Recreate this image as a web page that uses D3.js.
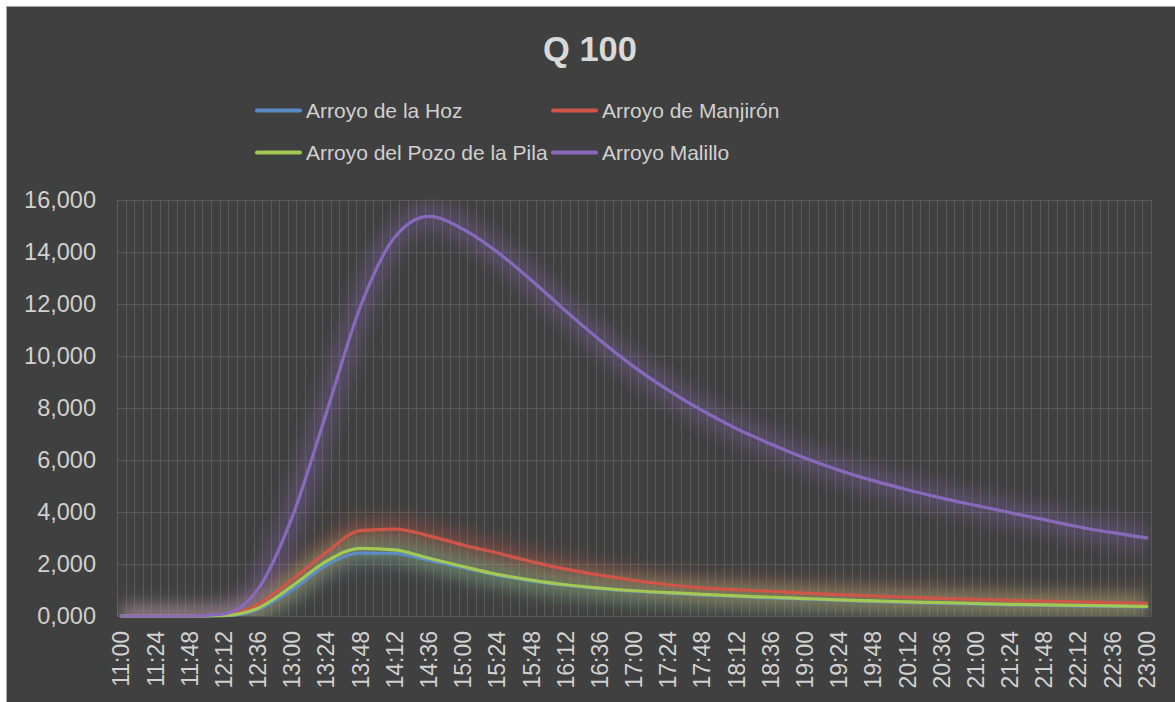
<!DOCTYPE html>
<html>
<head>
<meta charset="utf-8">
<script src="https://cdn.jsdelivr.net/npm/d3@7"></script>
<style>
  html, body { margin: 0; padding: 0; background: #ffffff; }
  svg { display: block; font-family: "Liberation Sans", Arial, sans-serif; }
</style>
</head>
<body>
<svg id="chart" width="1175" height="702"></svg>
<script>
// ---- Data ----
const tickLabels = ["11:00","11:24","11:48","12:12","12:36","13:00","13:24","13:48","14:12","14:36",
  "15:00","15:24","15:48","16:12","16:36","17:00","17:24","17:48","18:12","18:36",
  "19:00","19:24","19:48","20:12","20:36","21:00","21:24","21:48","22:12","22:36","23:00"];

const seriesNames = ["Arroyo de la Hoz", "Arroyo de Manjirón", "Arroyo del Pozo de la Pila", "Arroyo Malillo"];
const seriesColors = ["#5b8cc8", "#cf5549", "#a3c853", "#8a69bd"];

const hozValues = [0,0,0,0.01,0.25,1.0,1.95,2.42,2.4,2.14,1.86,1.57,1.35,1.18,1.05,0.95,0.88,0.81,0.75,0.70,0.65,0.60,0.56,0.52,0.49,0.46,0.43,0.41,0.39,0.37,0.35];
const manjironValues = [0,0,0,0.03,0.45,1.4,2.45,3.28,3.34,3.08,2.73,2.42,2.09,1.8,1.57,1.37,1.2,1.08,1.01,0.95,0.88,0.82,0.77,0.72,0.68,0.64,0.60,0.57,0.54,0.51,0.49];
const pozoValues = [0,0,0,0.02,0.3,1.15,2.1,2.6,2.54,2.22,1.9,1.6,1.38,1.2,1.07,0.97,0.9,0.83,0.77,0.72,0.67,0.62,0.58,0.54,0.51,0.48,0.45,0.43,0.41,0.39,0.37];
const malilloValues = [0,0,0,0.08,1.03,3.8,7.8,11.9,14.55,15.35,14.86,13.98,12.9,11.72,10.6,9.57,8.68,7.89,7.2,6.61,6.07,5.6,5.2,4.85,4.53,4.25,3.97,3.7,3.43,3.2,3.0];

const yTickValues = [0, 2, 4, 6, 8, 10, 12, 14, 16];
const titleText = "Q 100";

// ---- Layout ----
const W = 1175, H = 702;
const plot = { left: 117, right: 1151, top: 199.5, bottom: 616 };

// all categories, every 6 minutes from 11:00 to 23:00
const categories = d3.range(0, 721, 6).map(m => {
  const t = 660 + m;
  return Math.floor(t / 60) + ":" + String(t % 60).padStart(2, "0");
});

const svg = d3.select("#chart");
const defs = svg.append("defs");
const glow = defs.append("filter").attr("id", "glow")
  .attr("filterUnits", "userSpaceOnUse")
  .attr("x", 0).attr("y", 0).attr("width", W).attr("height", H);
glow.append("feGaussianBlur").attr("stdDeviation", 8);
defs.append("clipPath").attr("id", "plotclip").append("rect")
  .attr("x", plot.left).attr("y", plot.top)
  .attr("width", plot.right - plot.left).attr("height", plot.bottom - plot.top);

svg.append("rect").attr("x", 6.5).attr("y", 6.5).attr("width", W).attr("height", H)
  .attr("fill", "#404040").attr("stroke", "#a6a6a6").attr("stroke-width", 1);

const x = d3.scaleBand().domain(categories).range([plot.left, plot.right]).paddingInner(0).paddingOuter(0);
const xc = c => x(c) + x.bandwidth() / 2;
const y = d3.scaleLinear().domain([0, 16]).range([plot.bottom, plot.top]);

const locale = d3.formatLocale({ decimal: ",", thousands: ".", grouping: [3], currency: ["", ""] });
const fmt = locale.format(".3f");

// gridlines: vertical at category boundaries
const grid = svg.append("g").attr("stroke", "#5a5a5a").attr("stroke-width", 1).attr("shape-rendering", "crispEdges");
const bounds = categories.map(c => x(c)).concat([plot.right]);
grid.selectAll("line.v").data(bounds).join("line").attr("class", "v")
  .attr("x1", d => Math.round(d) + 0.5).attr("x2", d => Math.round(d) + 0.5)
  .attr("y1", plot.top).attr("y2", plot.bottom);
grid.selectAll("line.h").data(yTickValues).join("line").attr("class", "h")
  .attr("x1", plot.left).attr("x2", plot.right)
  .attr("y1", d => Math.round(y(d)) + 0.5).attr("y2", d => Math.round(y(d)) + 0.5);

// y axis labels
const yAxis = d3.axisLeft(y).tickValues(yTickValues).tickFormat(fmt).tickSize(0).tickPadding(21);
const yg = svg.append("g").attr("transform", `translate(${plot.left},0)`).call(yAxis);
yg.select(".domain").remove();
yg.selectAll("text").attr("fill", "#d0d0d0").attr("font-size", 23.5)
  .attr("font-family", "'Liberation Sans', Arial, sans-serif");

// x axis labels
const xg = svg.append("g");
xg.selectAll("text").data(tickLabels).join("text")
  .attr("transform", d => `translate(${xc(d)},${plot.bottom + 15}) rotate(-90)`)
  .attr("text-anchor", "end").attr("dy", "0.35em")
  .attr("fill", "#d0d0d0").attr("font-size", 23)
  .text(d => d);

// lines
const allSeries = [hozValues, manjironValues, pozoValues, malilloValues];
const line = d3.line().x((d, i) => xc(tickLabels[i])).y(d => y(d)).curve(d3.curveMonotoneX);

const glowG = svg.append("g").attr("clip-path", "url(#plotclip)")
  .append("g").attr("filter", "url(#glow)");
allSeries.forEach((vals, k) => {
  glowG.append("path").attr("d", line(vals)).attr("fill", "none")
    .attr("stroke", seriesColors[k]).attr("stroke-width", 24).attr("stroke-opacity", 0.3)
    .attr("stroke-linejoin", "round");
});
allSeries.forEach((vals, k) => {
  svg.append("path").attr("d", line(vals)).attr("fill", "none")
    .attr("stroke", seriesColors[k]).attr("stroke-width", 3.2)
    .attr("stroke-linejoin", "round").attr("stroke-linecap", "round");
});

// title
svg.append("text").attr("x", 590).attr("y", 61).attr("text-anchor", "middle")
  .attr("fill", "#d9d9d9").attr("font-size", 34.5).attr("font-weight", "bold").text(titleText);

// legend
const legendPos = [[255, 110.5], [551, 110.5], [255, 152.5], [551, 152.5]];
const lg = svg.append("g");
seriesNames.forEach((name, k) => {
  const [lx, ly] = legendPos[k];
  lg.append("line").attr("x1", lx + 2).attr("x2", lx + 45).attr("y1", ly).attr("y2", ly)
    .attr("stroke", seriesColors[k]).attr("stroke-width", 4).attr("stroke-linecap", "round");
  lg.append("text").attr("x", lx + 51).attr("y", ly).attr("dy", "0.35em")
    .attr("fill", "#d0d0d0").attr("font-size", 21).text(name);
});
</script>
</body>
</html>
